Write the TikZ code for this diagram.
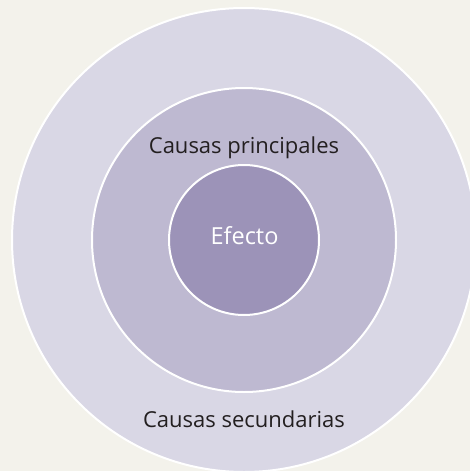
\documentclass[tikz,border=0pt]{standalone}
\usepackage{fontspec}
\setmainfont{Open Sans}
\definecolor{bgc}{HTML}{F3F2EB}
\definecolor{outerc}{HTML}{D9D7E5}
\definecolor{midc}{HTML}{BEB9D1}
\definecolor{innerc}{HTML}{9C93B8}
\definecolor{txtc}{HTML}{231F20}
\tikzset{
  ring/.style={circle, draw=white, line width=2pt, inner sep=0pt, outer sep=0pt},
  lbl/.style={anchor=base, text=txtc, font=\fontsize{22}{26}\selectfont, inner sep=0pt},
}
\begin{document}
\begin{tikzpicture}[x=1pt,y=-1pt]
\useasboundingbox (0,0) rectangle (470,471);
\fill[bgc] (0,0) rectangle (470,471);
\clip (0,0) rectangle (470,471);
\node[ring, fill=outerc, minimum size=464pt] (sec) at (244,240) {};
\node[ring, fill=midc, minimum size=304pt] (pri) at (244,240) {};
\node[ring, fill=innerc, minimum size=150pt] (efe) at (244,240) {};
\node[lbl] (tpri) at (244,153) {Causas principales};
\node[lbl] (tsec) at (244,427) {Causas secundarias};
\node[lbl, text=white, font=\fontsize{23.5}{27}\selectfont] (tefe) at (244.5,244) {Efecto};
\end{tikzpicture}
\end{document}
